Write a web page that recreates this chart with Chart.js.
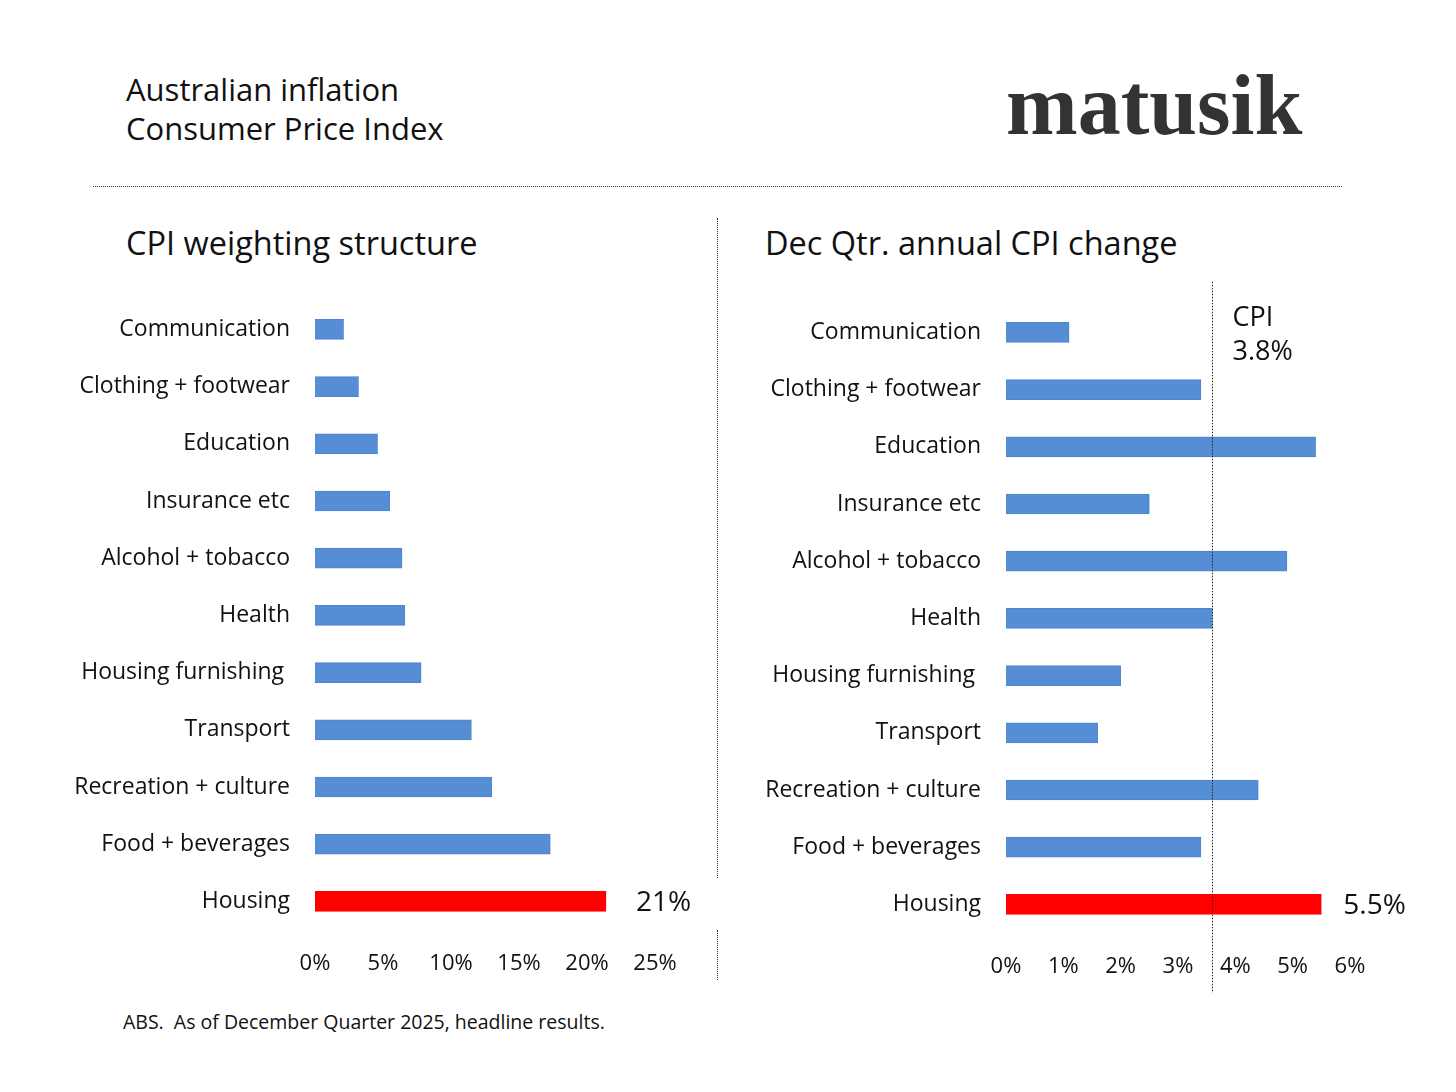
<!DOCTYPE html>
<html>
<head>
<meta charset="utf-8">
<title>Australian inflation - CPI</title>
<script src="https://cdn.jsdelivr.net/npm/chart.js@4.4.1/dist/chart.umd.min.js"></script>
<style>
  body { margin: 0; background: #fff; font-family: "Open Sans", Lato, sans-serif; color: #111; }
  #page { position: relative; width: 1456px; height: 1092px; overflow: hidden; background: #fff; }
  .txt { position: absolute; white-space: nowrap; line-height: 1.25; }
  .title { left: 126px; top: 70px; font-size: 31px; line-height: 39px; }
  .brand { left: 1006px; top: 52px; font-family: "Liberation Serif", "DejaVu Serif", serif; font-weight: bold; font-size: 86px; color: #333; }
  .sub { top: 223px; font-size: 32.5px; font-weight: 500; }
  .note { left: 123px; top: 1010px; font-size: 19.5px; }
  .hrule { position: absolute; left: 93px; top: 186px; width: 1249px; border-top: 1px dotted #333; }
  .vrule { position: absolute; left: 717px; width: 0; border-left: 1px dotted #333; }
  .box { position: absolute; }
</style>
</head>
<body>
<div id="page">
  <div class="txt title">Australian inflation<br>Consumer Price Index</div>
  <div class="txt brand">matusik</div>
  <div class="hrule"></div>
  <div class="vrule" style="top:218px;height:660px"></div>
  <div class="vrule" style="top:930px;height:50px"></div>
  <div class="txt sub" style="left:126px">CPI weighting structure</div>
  <div class="txt sub" style="left:765px">Dec Qtr. annual CPI change</div>
  <div class="box" style="left:40px;top:270px;width:680px;height:720px"><canvas id="weightChart"></canvas></div>
  <div class="box" style="left:730px;top:273px;width:700px;height:720px"><canvas id="changeChart"></canvas></div>
  <div class="txt note">ABS.&nbsp; As of December Quarter 2025, headline results.</div>
</div>

<script>
// Categories, top to bottom
const categories = [
    'Communication', 'Clothing + footwear', 'Education', 'Insurance etc',
    'Alcohol + tobacco', 'Health', 'Housing furnishing ', 'Transport',
    'Recreation + culture', 'Food + beverages', 'Housing'
];

// CPI weights (%)
const weights = [2.1, 3.2, 4.6, 5.5, 6.4, 6.6, 7.8, 11.5, 13.0, 17.3, 21.4];

// Dec quarter annual change (%)
const annualChange = [1.1, 3.4, 5.4, 2.5, 4.9, 3.6, 2.0, 1.6, 4.4, 3.4, 5.5];

const weightTicks = [0, 5, 10, 15, 20, 25];
const changeTicks = [0, 1, 2, 3, 4, 5, 6];

const headlineCpi = 3.6;        // where the dotted CPI line sits on the axis
const headlineCpiLabel = ['CPI', '3.8%'];
const weightCallout = '21%';
const changeCallout = '5.5%';

const highlight = 'Housing';
const BLUE = '#558ED5';
const RED = '#FF0000';
const FONT = '"Open Sans", Lato, sans-serif';

// Draws the callout next to the highlighted bar and the optional CPI line
const overlayPlugin = {
    id: 'overlay',
    afterDatasetsDraw(chart, args, opts) {
        const ctx = chart.ctx;
        const meta = chart.getDatasetMeta(0);
        const idx = categories.indexOf(highlight);
        const bar = meta.data[idx];
        ctx.save();
        ctx.fillStyle = '#111';
        ctx.font = '28px ' + FONT;
        ctx.textAlign = 'left';
        ctx.textBaseline = 'middle';
        ctx.fillText(opts.callout, bar.x + opts.calloutGap, bar.y + 2);

        if (opts.refLine != null) {
            const x = Math.round(chart.scales.x.getPixelForValue(opts.refLine)) + 0.5;
            ctx.strokeStyle = '#222';
            ctx.lineWidth = 1;
            ctx.setLineDash([1.5, 1.5]);
            ctx.beginPath();
            ctx.moveTo(x, chart.chartArea.top - 22);
            ctx.lineTo(x, chart.chartArea.bottom + 62);
            ctx.stroke();
            ctx.setLineDash([]);
            ctx.font = '27px ' + FONT;
            opts.refLabel.forEach((line, i) => {
                ctx.fillText(line, x + 20, chart.chartArea.top + 15 + i * 34);
            });
        }
        ctx.restore();
    }
};

function makeChart(id, values, ticks, yWidth, padRight, overlay) {
    const colors = categories.map(c => c === highlight ? RED : BLUE);
    const borders = categories.map(c => c === highlight ? RED : '#4D85CE');
    return new Chart(document.getElementById(id), {
        type: 'bar',
        data: {
            labels: categories,
            datasets: [{
                data: values,
                backgroundColor: colors,
                borderColor: borders,
                borderWidth: 1,
                barThickness: 20
            }]
        },
        options: {
            indexAxis: 'y',
            responsive: true,
            maintainAspectRatio: false,
            animation: false,
            layout: { padding: { top: 0, right: padRight, left: 0, bottom: 0 } },
            plugins: {
                legend: { display: false },
                tooltip: { enabled: false },
                overlay: overlay
            },
            scales: {
                x: {
                    min: ticks[0],
                    max: ticks[ticks.length - 1],
                    afterBuildTicks: axis => { axis.ticks = ticks.map(v => ({ value: v })); },
                    afterFit: axis => { axis.height = 60; },
                    grid: { display: false },
                    border: { display: false },
                    ticks: {
                        color: '#111',
                        font: { family: FONT, size: 22 },
                        padding: 13,
                        maxRotation: 0,
                        callback: v => v + '%'
                    }
                },
                y: {
                    afterFit: axis => { axis.width = yWidth; },
                    grid: { display: false },
                    border: { display: false },
                    ticks: {
                        color: '#111',
                        font: { family: FONT, size: 23 },
                        padding: 17
                    }
                }
            }
        },
        plugins: [overlayPlugin]
    });
}

document.addEventListener('DOMContentLoaded', () => {
    makeChart('weightChart', weights, weightTicks, 275, 65,
        { callout: weightCallout, calloutGap: 30, refLine: null });
    makeChart('changeChart', annualChange, changeTicks, 276, 80,
        { callout: changeCallout, calloutGap: 22, refLine: headlineCpi, refLabel: headlineCpiLabel });
});
</script>
</body>
</html>
